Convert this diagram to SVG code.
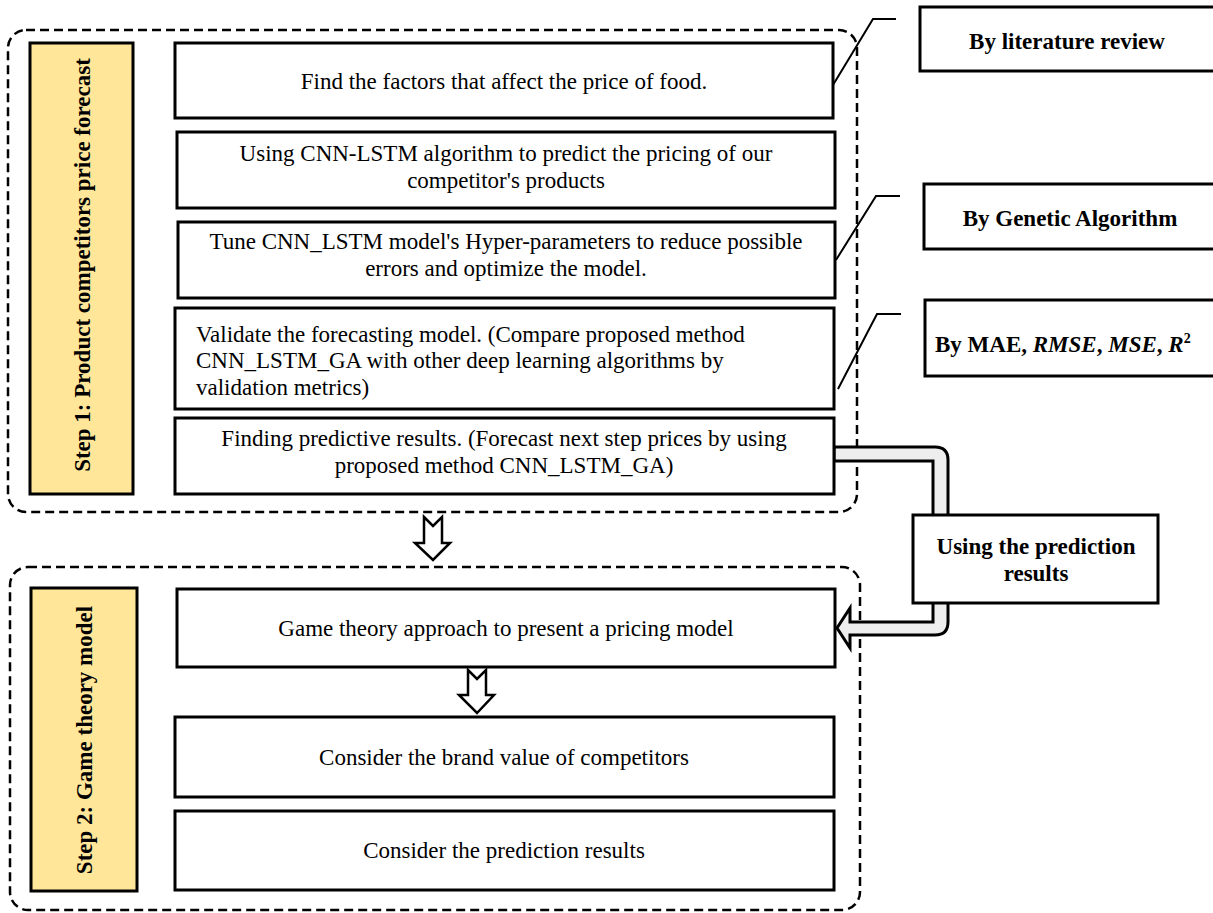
<svg xmlns="http://www.w3.org/2000/svg" width="1213" height="913" viewBox="0 0 1213 913">
<style>
.grp{fill:none;stroke:#000;stroke-width:2.5;stroke-dasharray:9 5}
.box{fill:#fff;stroke:#000;stroke-width:3}
.lbl{fill:#FFE699;stroke:#000;stroke-width:3}
.t{font-family:"Liberation Serif","Times New Roman",serif;font-size:23px;fill:#000;text-anchor:middle}
.tl{text-anchor:start}
.b{font-weight:bold}
.v{font-family:"Liberation Serif","Times New Roman",serif;font-size:23px;font-weight:bold;fill:#000;text-anchor:middle}
.call{fill:none;stroke:#000;stroke-width:2}
.hollow{fill:#fff;stroke:#000;stroke-width:2.5;stroke-linejoin:miter}
.pipe{fill:#eeeeee;stroke:#000;stroke-width:3;stroke-linejoin:miter}
</style>
<rect width="1213" height="913" fill="#fff"/>

<g id="group-step1">
<rect class="grp" x="8" y="30" width="849" height="482" rx="18"/>
</g>
<g id="group-step2">
<rect class="grp" x="10" y="567" width="850" height="343" rx="18"/>
</g>

<g id="connectors">
<path class="call" d="M833,85 L873,19 L896,19"/>
<path class="call" d="M836,260 L876,196 L900,196"/>
<path class="call" d="M838,389 L877,314 L901,314"/>
<path class="pipe" d="M834,447 L935,447 Q948,447 948,460 L948,622 Q948,635 935,635 L850,635 L850,648 L837,628 L850,608 L850,622 L933,622 L933,461 L834,461 Z"/>
<path class="hollow" d="M424,517 L433,526 L442,517 L442,543 L450,543 L433,560 L415,543 L424,543 Z"/>
<path class="hollow" d="M468,670 L477,679 L486,670 L486,695 L494,695 L477,713 L459,695 L468,695 Z"/>
</g>

<g id="label-step1">
<rect class="lbl" x="30" y="43" width="103" height="451"/>
<text class="v" transform="translate(90,265) rotate(-90)">Step 1: Product competitors price forecast</text>
</g>
<g id="label-step2">
<rect class="lbl" x="31" y="588" width="106" height="303"/>
<text class="v" transform="translate(92,740) rotate(-90)">Step 2: Game theory model</text>
</g>

<g id="node-factors">
<rect class="box" x="175" y="43" width="658" height="75"/>
<text class="t" x="504" y="89">Find the factors that affect the price of food.</text>
</g>
<g id="node-cnnlstm">
<rect class="box" x="177" y="132" width="658" height="76"/>
<text class="t" x="506" y="161">Using CNN-LSTM algorithm to predict the pricing of our</text>
<text class="t" x="506" y="188">competitor's products</text>
</g>
<g id="node-tune">
<rect class="box" x="178" y="222" width="657" height="76"/>
<text class="t" x="506" y="249">Tune CNN_LSTM model's Hyper-parameters to reduce possible</text>
<text class="t" x="506" y="276">errors and optimize the model.</text>
</g>
<g id="node-validate">
<rect class="box" x="175" y="308" width="659" height="101"/>
<text class="t tl" x="196" y="342">Validate the forecasting model. (Compare proposed method</text>
<text class="t tl" x="196" y="368">CNN_LSTM_GA with other deep learning algorithms by</text>
<text class="t tl" x="196" y="395">validation metrics)</text>
</g>
<g id="node-finding">
<rect class="box" x="175" y="418" width="659" height="76"/>
<text class="t" x="504" y="446">Finding predictive results. (Forecast next step prices by using</text>
<text class="t" x="504" y="473">proposed method CNN_LSTM_GA)</text>
</g>

<g id="node-game">
<rect class="box" x="177" y="589" width="658" height="78"/>
<text class="t" x="506" y="636">Game theory approach to present a pricing model</text>
</g>
<g id="node-brand">
<rect class="box" x="175" y="717" width="659" height="80"/>
<text class="t" x="504" y="765">Consider the brand value of competitors</text>
</g>
<g id="node-prediction">
<rect class="box" x="175" y="811" width="659" height="79"/>
<text class="t" x="504" y="858">Consider the prediction results</text>
</g>

<g id="note-literature">
<rect class="box" x="920" y="7" width="300" height="64"/>
<text class="t b" x="1067" y="49">By literature review</text>
</g>
<g id="note-ga">
<rect class="box" x="924" y="184" width="300" height="65"/>
<text class="t b" x="1070" y="226">By Genetic Algorithm</text>
</g>
<g id="note-metrics">
<rect class="box" x="925" y="300" width="300" height="76"/>
<text class="t b tl" x="935" y="352">By MAE, <tspan font-style="italic">RMSE</tspan>, <tspan font-style="italic">MSE</tspan>, <tspan font-style="italic">R</tspan><tspan font-size="14" dy="-9">2</tspan></text>
</g>
<g id="note-using">
<rect class="box" x="913" y="515" width="245" height="88"/>
<text class="t b" x="1036" y="554">Using the prediction</text>
<text class="t b" x="1036" y="581">results</text>
</g>
</svg>
